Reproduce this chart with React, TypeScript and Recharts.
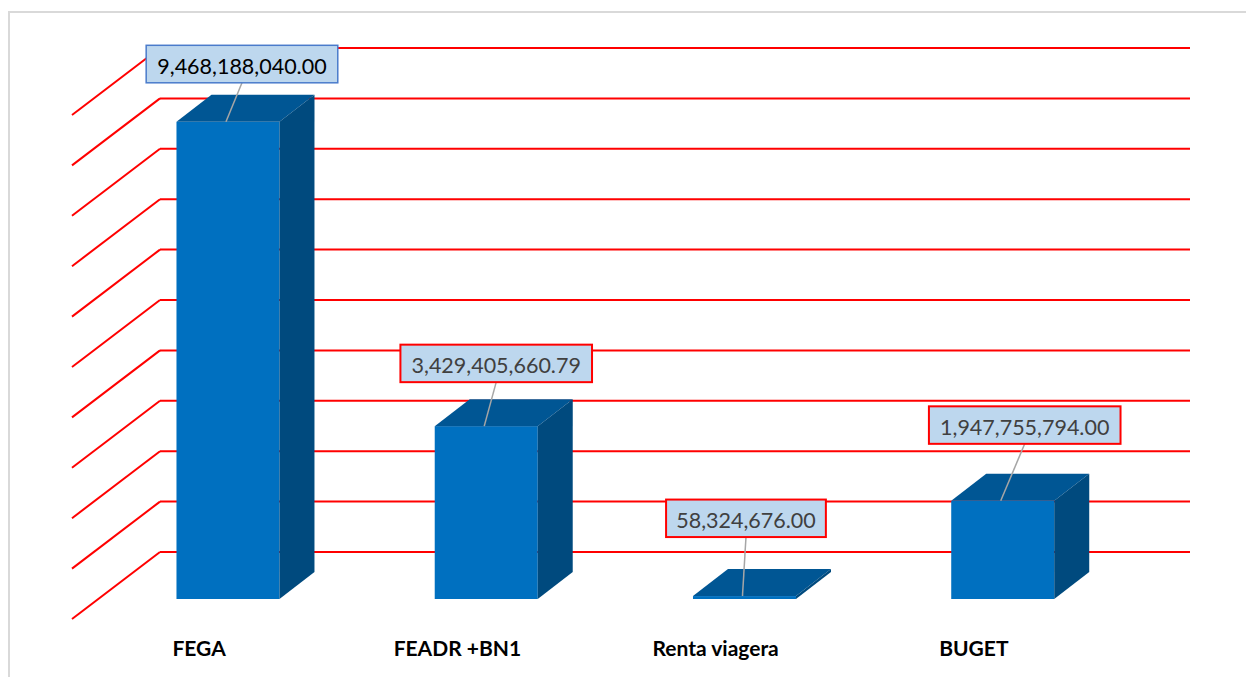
import React from 'react';
import { BarChart, Bar, XAxis, YAxis, CartesianGrid } from 'recharts';

const CATEGORIES = ['FEGA', 'FEADR +BN1', 'Renta viagera', 'BUGET'];
const VALUES = [9468188040.0, 3429405660.79, 58324676.0, 1947755794.0];
const Y_TICKS = [0, 1e9, 2e9, 3e9, 4e9, 5e9, 6e9, 7e9, 8e9, 9e9, 10e9];

// label placement tweaks (box centre shift from bar centre, gap above bar top)
const LABEL_SHIFT = [14, 10, 1.5, 22];
const LABEL_GAP = [39, 44, 59, 57];
const LABEL_BORDER = ['#4A7BCB', '#FF0000', '#FF0000', '#FF0000'];
const LABEL_TEXT = ['#000000', '#404040', '#404040', '#404040'];

const data = CATEGORIES.map((name, i) => ({ name, value: VALUES[i] }));

const FONT = 'Lato, "Open Sans", sans-serif';
const BAR_DX = 35;
const BAR_DY = 27;
const WALL_DX = 61;
const WALL_DY = 47;
const FLOOR_DX = 27;
const FLOOR_DY = 20;

const fmt = (v: number) =>
  v.toLocaleString('en-US', { minimumFractionDigits: 2, maximumFractionDigits: 2 });

// back wall line + left side wall diagonal for each tick
const GridLine = (props: any) => {
  const { x1, x2, y1, index } = props;
  return (
    <g key={`grid-${index}`}>
      <line x1={x1 + WALL_DX} y1={y1 - WALL_DY} x2={x2 + WALL_DX - 3} y2={y1 - WALL_DY} stroke="#FF0000" strokeWidth={2} />
      <line x1={x1 - FLOOR_DX} y1={y1 + FLOOR_DY} x2={x1 + WALL_DX} y2={y1 - WALL_DY} stroke="#FF0000" strokeWidth={2} />
    </g>
  );
};

const Box3D = (props: any) => {
  const { x, y, width, height, index } = props;
  const bottom = y + height;
  const right = x + width;
  const value = props.payload?.value ?? VALUES[index];
  const label = fmt(value);
  const boxW = label.length * 10.6 + 22;
  const boxH = 37.5;
  const cx = x + width / 2 + LABEL_SHIFT[index];
  const boxBottom = y - LABEL_GAP[index];
  return (
    <g>
      <rect x={x} y={y} width={width} height={Math.max(height, 1)} fill="#0070C0" />
      <polygon
        points={`${x},${y} ${x + BAR_DX},${y - BAR_DY} ${right + BAR_DX},${y - BAR_DY} ${right},${y}`}
        fill="#005694"
      />
      <polygon
        points={`${right},${y} ${right + BAR_DX},${y - BAR_DY} ${right + BAR_DX},${bottom - BAR_DY} ${right},${bottom}`}
        fill="#004A7E"
      />
      <line x1={cx} y1={boxBottom} x2={x + width / 2 - 2} y2={y} stroke="#A6A6A6" strokeWidth={1.5} />
      <rect
        x={cx - boxW / 2}
        y={boxBottom - boxH}
        width={boxW}
        height={boxH}
        fill="#BDD7EE"
        stroke={LABEL_BORDER[index]}
        strokeWidth={index === 0 ? 1.5 : 2}
      />
      <text
        x={cx}
        y={boxBottom - 9}
        textAnchor="middle"
        fontFamily={FONT}
        fontSize={21.5}
        fill={LABEL_TEXT[index]}
      >
        {label}
      </text>
    </g>
  );
};

const CategoryTick = (props: any) => {
  const { x, payload } = props;
  return (
    <text x={x - 29} y={656} textAnchor="middle" fontFamily={FONT} fontWeight="bold" fontSize={21} fill="#000000">
      {payload.value}
    </text>
  );
};

export default function App() {
  return (
    <div style={{ position: 'absolute', left: 0, top: 0, width: 1246, height: 677, background: '#ffffff', overflow: 'hidden' }}>
      <div
        style={{
          position: 'absolute',
          left: 8,
          top: 11,
          width: 1300,
          height: 700,
          borderTop: '2px solid #D9D9D9',
          borderLeft: '2px solid #D9D9D9',
          pointerEvents: 'none',
        }}
      />
      <div style={{ position: 'absolute', left: 0, top: 0 }}>
        <BarChart
          width={1246}
          height={677}
          data={data}
          margin={{ top: 95, right: 114, bottom: 0, left: 99 }}
          barCategoryGap="30%"
        >
          <CartesianGrid vertical={false} horizontal={GridLine} />
          <XAxis dataKey="name" axisLine={false} tickLine={false} height={78} tick={CategoryTick} interval={0} />
          <YAxis hide domain={[0, 10e9]} ticks={Y_TICKS} />
          <Bar dataKey="value" shape={Box3D} isAnimationActive={false} />
        </BarChart>
      </div>
    </div>
  );
}
